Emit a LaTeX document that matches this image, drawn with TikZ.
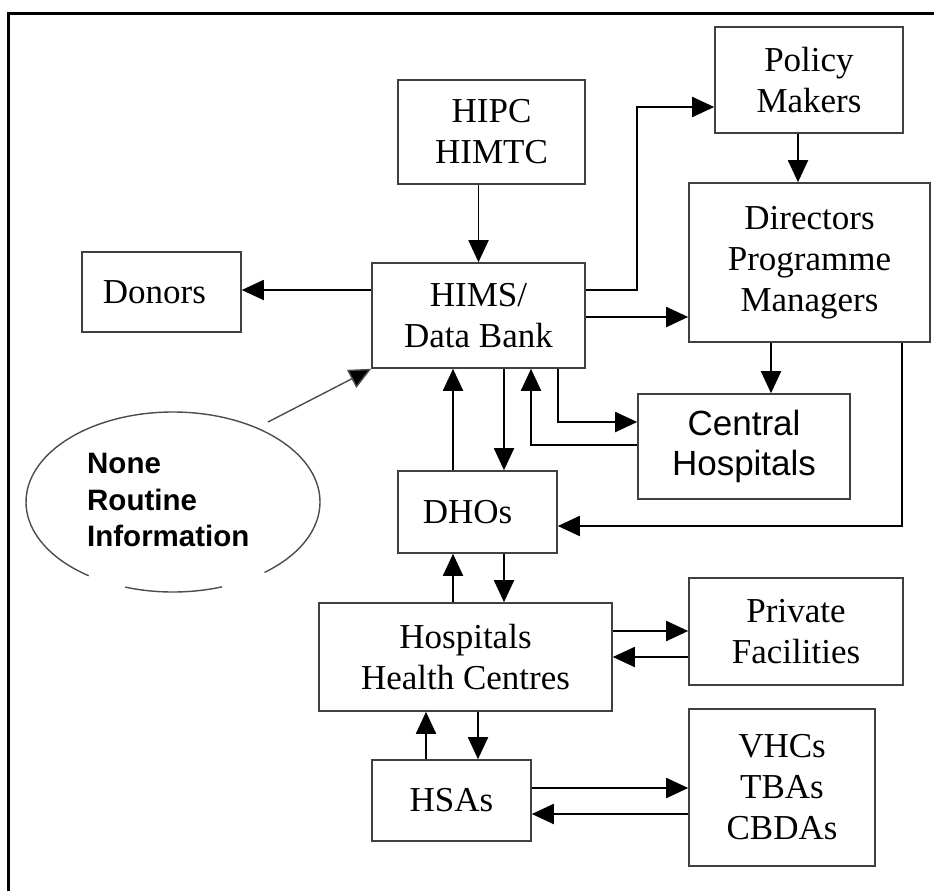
\documentclass[tikz,border=0pt]{standalone}
\usepackage{fontspec}
\setmainfont{Liberation Serif}
\setsansfont{Liberation Sans}
\usetikzlibrary{arrows.meta,shapes.geometric,calc}
\begin{document}
\begin{tikzpicture}[x=1pt,y=-1pt,
  box/.style={draw=black!75, line width=1.6pt, inner sep=0pt, align=center,
    font=\fontsize{35}{41}\selectfont},
  conn/.style={line width=1.9pt, -{Triangle[length=22pt,width=20pt]}},
  ell/.style={draw=black!70, line width=1.4pt}]
\useasboundingbox (0,0) rectangle (934,891);
\fill[white] (0,0) rectangle (934,891);
% frame
\draw[line width=3pt] (8,891) -- (8,14) -- (934,14);
% boxes
\node[box, minimum width=187pt, minimum height=104pt] (hipc) at (491.5,132) {HIPC\\HIMTC};
\node[box, minimum width=188pt, minimum height=106pt] (policy) at (809,80) {Policy\\Makers};
\node[box, minimum width=241pt, minimum height=159pt] (dir) at (809.5,262.5) {Directors\\Programme\\Managers};
\node[box, minimum width=213pt, minimum height=105pt] (hims) at (478.5,315.5) {HIMS/\\Data Bank};
\node[box, minimum width=159pt, minimum height=80pt] (donors) at (161.5,292) {\hspace*{-14pt}Donors};
\node[box, minimum width=212pt, minimum height=105pt, font=\sffamily\fontsize{35}{40}\selectfont] (central) at (744,446.5) {Central\\Hospitals};
\node[box, minimum width=159pt, minimum height=82pt] (dhos) at (477.5,512) {\hspace*{-20pt}DHOs};
\node[box, minimum width=293pt, minimum height=108pt] (hosp) at (465.5,657) {Hospitals\\Health Centres};
\node[box, minimum width=214pt, minimum height=107pt] (priv) at (796,631.5) {Private\\Facilities};
\node[box, minimum width=159pt, minimum height=81pt] (hsas) at (451.5,800.5) {HSAs};
\node[box, minimum width=186pt, minimum height=157pt] (vhc) at (782,787.5) {VHCs\\TBAs\\CBDAs};
% ellipse
\node[ellipse, minimum width=294pt, minimum height=180pt, draw=none] (nri) at (173,502) {};
\draw[ell] ([shift={(-51.5:147pt and 90pt)}]nri.center) arc[start angle=-51.5, end angle=235, x radius=147pt, y radius=90pt];
\draw[ell] ([shift={(251:147pt and 90pt)}]nri.center) arc[start angle=251, end angle=289.5, x radius=147pt, y radius=90pt];
\node[anchor=west, align=left, inner sep=0pt, font=\sffamily\bfseries\fontsize{29.5}{36.5}\selectfont] (nritext) at (87,500) {None\\Routine\\Information};
\coordinate (nristart) at (268,422);
% connectors
\draw[conn] (hipc.south -| hims.north) -- (hims.north);
\draw[conn] (hims.west |- 0,290) -- (donors.east |- 0,290);
\draw[conn] (hims.east |- 0,290) -- (637,290) -- (637,107) -- (policy.west |- 0,107);
\draw[conn] (policy.south -| 798,0) -- (dir.north -| 798,0);
\draw[conn] (hims.east |- 0,317) -- (dir.west |- 0,317);
\draw[conn] (dir.south -| 771,0) -- (central.north -| 771,0);
\draw[conn] (hims.south -| 558,0) |- (central.west |- 0,422);
\draw[conn] (central.west |- 0,445) -| (hims.south -| 531,0);
\draw[conn] (hims.south -| 504,0) -- (dhos.north -| 504,0);
\draw[conn] (dhos.north -| 453,0) -- (hims.south -| 453,0);
\draw[conn] (dir.south -| 902,0) |- (dhos.east |- 0,526);
\draw[conn] (hosp.north -| 453,0) -- (dhos.south -| 453,0);
\draw[conn] (dhos.south -| 504,0) -- (hosp.north -| 504,0);
\draw[conn] (hosp.east |- 0,631) -- (priv.west |- 0,631);
\draw[conn] (priv.west |- 0,657) -- (hosp.east |- 0,657);
\draw[conn] (hsas.north -| 426,0) -- (hosp.south -| 426,0);
\draw[conn] (hosp.south -| 478,0) -- (hsas.north -| 478,0);
\draw[conn] (hsas.east |- 0,788) -- (vhc.west |- 0,788);
\draw[conn] (vhc.west |- 0,814) -- (hsas.east |- 0,814);
\draw[line width=1.4pt, draw=black!70, -{Triangle[length=22pt,width=20pt,fill=black]}] (nristart) -- (hims.south west);
\end{tikzpicture}
\end{document}
